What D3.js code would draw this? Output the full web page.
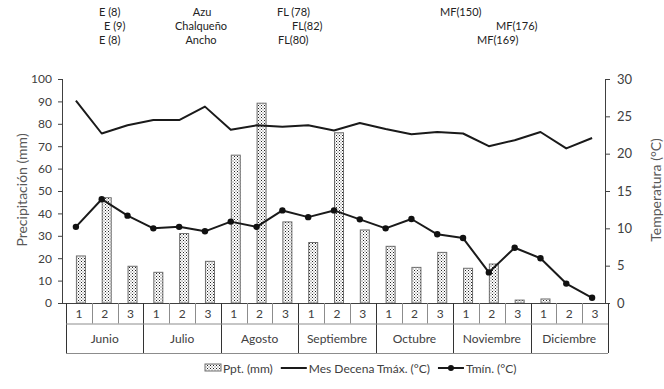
<!DOCTYPE html>
<html><head><meta charset="utf-8">
<script src="https://cdn.jsdelivr.net/npm/d3@7"></script>
<style>
html,body{margin:0;padding:0;background:#fff;}
svg{display:block;font-family:Lato,"Open Sans",sans-serif;}
</style></head>
<body><svg id="c" width="664" height="389"></svg>
<script>
const months = ["Junio","Julio","Agosto","Septiembre","Octubre","Noviembre","Diciembre"];
const decades = ["1","2","3"];
const ppt  = [21, 47, 16.4, 13.7, 31, 18.6, 66, 89.2, 36.2, 27, 76, 32.6, 25.3, 15.9, 22.6, 15.5, 17.4, 1.3, 1.8, 0, 0];
const tmax = [27.1, 22.7, 23.8, 24.5, 24.5, 26.3, 23.2, 23.8, 23.6, 23.8, 23.1, 24.1, 23.3, 22.6, 22.9, 22.7, 21.0, 21.8, 22.9, 20.7, 22.1];
const tmin = [10.2, 13.9, 11.7, 10.0, 10.2, 9.6, 10.9, 10.2, 12.4, 11.5, 12.4, 11.2, 10.0, 11.25, 9.2, 8.7, 4.1, 7.4, 6.0, 2.6, 0.7];
const leftTicks = [0,10,20,30,40,50,60,70,80,90,100];
const rightTicks = [0,5,10,15,20,25,30];
const annotations = ["E (8)","E (9)","E (8)","Azu","Chalqueño","Ancho","FL (78)","FL(82)","FL(80)","MF(150)","MF(176)","MF(169)"];
const legendLabels = ["Ppt. (mm)","Mes Decena Tmáx. (°C)","Tmín. (°C)"];
const yTitleLeft = "Precipitación (mm)";
const yTitleRight = "Temperatura (°C)";

// layout (positions kept separate from data)
const annotPos = [[99,0],[104,1],[99,2],[202,0,"middle"],[201,1,"middle"],[201,2,"middle"],[277,0],[292,1],[278,2],[440,0],[496,1],[477,2]];
const X0 = 63, X1 = 605, Y0 = 303, Y1 = 79;
const svg = d3.select("#c");
const n = ppt.length;
const x = d3.scaleBand().domain(d3.range(n)).range([X0, X1]);
const yL = d3.scaleLinear().domain([0,100]).range([Y0, Y1]);
const yR = d3.scaleLinear().domain([0,30]).range([Y0, Y1]);
const txt = "#404040", axc = "#404040";

// pattern
const defs = svg.append("defs");
const pat = defs.append("pattern").attr("id","dots").attr("patternUnits","userSpaceOnUse")
  .attr("width",3).attr("height",3);
pat.append("rect").attr("width",3).attr("height",3).attr("fill","#fff");
pat.append("rect").attr("x",0).attr("y",0).attr("width",1).attr("height",1).attr("fill","#222");
pat.append("rect").attr("x",1.5).attr("y",1.5).attr("width",1).attr("height",1).attr("fill","#555");

// annotations
svg.append("g").selectAll("text").data(annotations).join("text")
  .attr("x",(d,i)=>annotPos[i][0]).attr("y",(d,i)=>16+annotPos[i][1]*14)
  .attr("text-anchor",(d,i)=>annotPos[i][2]||"start")
  .attr("font-size",11).attr("fill","#222").text(d=>d);

// bars
const bw = 9;
svg.append("g").selectAll("rect").data(ppt).join("rect")
  .attr("x",(d,i)=>x(i)+x.bandwidth()/2+5-bw/2)
  .attr("y",d=>yL(d)).attr("width",bw).attr("height",d=>Y0-yL(d))
  .attr("fill","url(#dots)").attr("stroke","#6f6f6f").attr("stroke-width",1)
  .style("display",d=>d>0?null:"none");

// left axis
const gL = svg.append("g").attr("transform",`translate(${X0},0)`)
  .call(d3.axisLeft(yL).tickValues(leftTicks).tickSize(5).tickPadding(6));
gL.select(".domain").attr("stroke",axc).attr("d",`M-0.5,${Y1}V${Y0}`);
gL.selectAll(".tick line").attr("stroke",axc);
gL.selectAll(".tick text").attr("font-size",12).attr("fill",txt).attr("font-family","Lato");

// right axis
const gR = svg.append("g").attr("transform",`translate(${X1},0)`)
  .call(d3.axisRight(yR).tickValues(rightTicks).tickSize(5).tickPadding(7));
gR.select(".domain").attr("stroke",axc).attr("d",`M0.5,${Y1}V${Y0}`);
gR.selectAll(".tick line").attr("stroke",axc);
gR.selectAll(".tick text").attr("font-size",13).attr("fill",txt).attr("font-family","Lato");

// axis titles
svg.append("text").attr("transform",`translate(23,190) rotate(-90)`).attr("text-anchor","middle")
  .attr("dominant-baseline","middle").attr("font-size",14).attr("fill","#595959").text(yTitleLeft);
svg.append("text").attr("transform",`translate(657,190) rotate(-90)`).attr("text-anchor","middle")
  .attr("dominant-baseline","middle").attr("font-size",14).attr("fill","#595959").text(yTitleRight);

// lines
const cx = i => x(i)+x.bandwidth()/2;
svg.append("path").datum(tmax).attr("fill","none").attr("stroke","#1a1a1a").attr("stroke-width",2)
  .attr("stroke-linejoin","round").attr("d",d3.line().x((d,i)=>cx(i)).y(d=>yR(d)));
svg.append("path").datum(tmin).attr("fill","none").attr("stroke","#1a1a1a").attr("stroke-width",2)
  .attr("stroke-linejoin","round").attr("d",d3.line().x((d,i)=>cx(i)).y(d=>yR(d)));
svg.append("g").selectAll("circle").data(tmin).join("circle")
  .attr("cx",(d,i)=>cx(i)).attr("cy",d=>yR(d)).attr("r",3.2).attr("fill","#111");

// category axis line
svg.append("line").attr("x1",X0).attr("x2",X1).attr("y1",Y0+0.5).attr("y2",Y0+0.5).attr("stroke",axc);

// table
const T0 = 3, R1 = Y0, R2 = 323.5, R3 = 353;
const tg = svg.append("g");
const bx = i => x(i)+T0;
for (let i=0;i<=n;i++){
  const xx = (i<n?bx(i):x(n-1)+x.bandwidth()+T0);
  const full = i%3===0;
  tg.append("line").attr("x1",Math.round(xx)+0.5).attr("x2",Math.round(xx)+0.5)
    .attr("y1",R1).attr("y2",full?R3:R2).attr("stroke",full?"#333":"#8c8c8c");
}
tg.append("line").attr("x1",bx(0)).attr("x2",x(n-1)+x.bandwidth()+T0).attr("y1",R2+0.5).attr("y2",R2+0.5).attr("stroke","#8c8c8c");
tg.append("line").attr("x1",bx(0)).attr("x2",x(n-1)+x.bandwidth()+T0).attr("y1",R3+0.5).attr("y2",R3+0.5).attr("stroke","#8c8c8c");
tg.selectAll("text.dec").data(d3.range(n)).join("text").attr("class","dec")
  .attr("x",i=>bx(i)+x.bandwidth()/2).attr("y",318).attr("text-anchor","middle")
  .attr("font-size",12).attr("fill",txt).text(i=>decades[i%3]);
tg.selectAll("text.mon").data(months).join("text").attr("class","mon")
  .attr("x",(d,m)=>bx(m*3)+x.bandwidth()*1.5).attr("y",343).attr("text-anchor","middle")
  .attr("font-size",12).attr("fill",txt).text(d=>d);

// legend
const lg = svg.append("g").attr("transform","translate(0,368)");
let lx = 205;
lg.append("rect").attr("x",lx).attr("y",-4).attr("width",16).attr("height",7).attr("fill","url(#dots)").attr("stroke","#6f6f6f");
lx += 18;
let t = lg.append("text").attr("x",lx).attr("y",4.5).attr("font-size",12).attr("fill",txt).text(legendLabels[0]);
lx += t.node().getComputedTextLength()+8;
lg.append("line").attr("x1",lx).attr("x2",lx+26).attr("y1",0).attr("y2",0).attr("stroke","#1a1a1a").attr("stroke-width",2);
lx += 28;
t = lg.append("text").attr("x",lx).attr("y",4.5).attr("font-size",12).attr("fill",txt).text(legendLabels[1]);
lx += t.node().getComputedTextLength()+8;
lg.append("line").attr("x1",lx).attr("x2",lx+26).attr("y1",0).attr("y2",0).attr("stroke","#1a1a1a").attr("stroke-width",2);
lg.append("circle").attr("cx",lx+13).attr("cy",0).attr("r",3).attr("fill","#111");
lx += 28;
lg.append("text").attr("x",lx).attr("y",4.5).attr("font-size",12).attr("fill",txt).text(legendLabels[2]);
</script></body></html>
